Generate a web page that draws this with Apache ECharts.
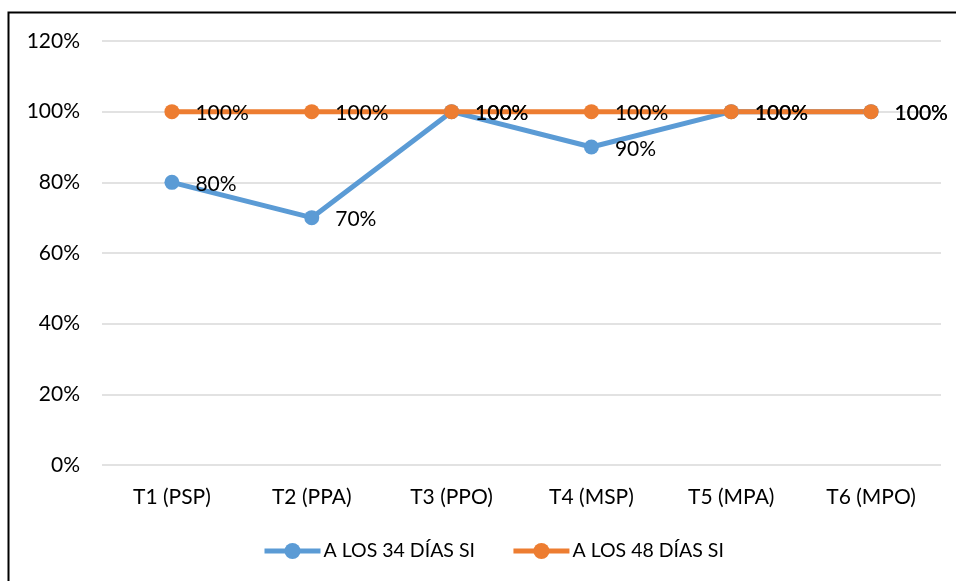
<!DOCTYPE html>
<html>
<head>
<meta charset="utf-8">
<script src="https://cdn.jsdelivr.net/npm/echarts@6/dist/echarts.min.js"></script>
<style>
html, body { margin: 0; padding: 0; background: #fff; }
#chart { width: 956px; height: 581px; }
</style>
</head>
<body>
<div id="chart"></div>
<script>
// datos
var categorias = ['T1 (PSP)', 'T2 (PPA)', 'T3 (PPO)', 'T4 (MSP)', 'T5 (MPA)', 'T6 (MPO)'];
var dias34 = [80, 70, 100, 90, 100, 100];
var dias48 = [100, 100, 100, 100, 100, 100];
var nombres = ['A LOS 34 DÍAS SI', 'A LOS 48 DÍAS SI'];

var fuente = 'Lato, "Noto Sans", sans-serif';
var chart = echarts.init(document.getElementById('chart'));

function serie(nombre, datos, color) {
    return {
        name: nombre,
        type: 'line',
        data: datos,
        symbol: 'circle',
        symbolSize: 15,
        lineStyle: { color: color, width: 5 },
        itemStyle: { color: color },
        label: {
            show: true,
            position: 'right',
            distance: 16,
            offset: [0, 2],
            formatter: '{c}%',
            color: '#000',
            fontFamily: fuente,
            fontSize: 21
        },
        z: 2
    };
}

var option = {
    animation: false,
    backgroundColor: '#fff',
    // marco del grafico
    graphic: [{
        type: 'rect',
        shape: { x: 8.5, y: 12.5, width: 1000, height: 1000 },
        style: { fill: 'none', stroke: '#000', lineWidth: 2 },
        silent: true
    }],
    grid: {
        left: 102,
        right: 15,
        top: 41,
        bottom: 116
    },
    legend: {
        bottom: 15,
        left: 257,
        itemWidth: 56,
        itemHeight: 20,
        itemGap: 36,
        lineStyle: { width: 5 },
        textStyle: { color: '#000', fontFamily: fuente, fontSize: 19.5, padding: [0, 0, 0, -2] },
        data: nombres
    },
    xAxis: {
        type: 'category',
        data: categorias,
        boundaryGap: true,
        axisLine: { show: false },
        axisTick: { show: false },
        axisLabel: { color: '#000', fontFamily: fuente, fontSize: 21, margin: 22 }
    },
    yAxis: {
        type: 'value',
        min: 0,
        max: 120,
        interval: 20,
        axisLine: { show: false },
        axisTick: { show: false },
        axisLabel: { color: '#000', fontFamily: fuente, fontSize: 21, margin: 22, formatter: '{value}%' },
        splitLine: { lineStyle: { color: '#d9d9d9', width: 1.5 } }
    },
    series: [
        serie(nombres[0], dias34, '#5b9bd5'),
        serie(nombres[1], dias48, '#ed7d31')
    ]
};
chart.setOption(option);
</script>
</body>
</html>
